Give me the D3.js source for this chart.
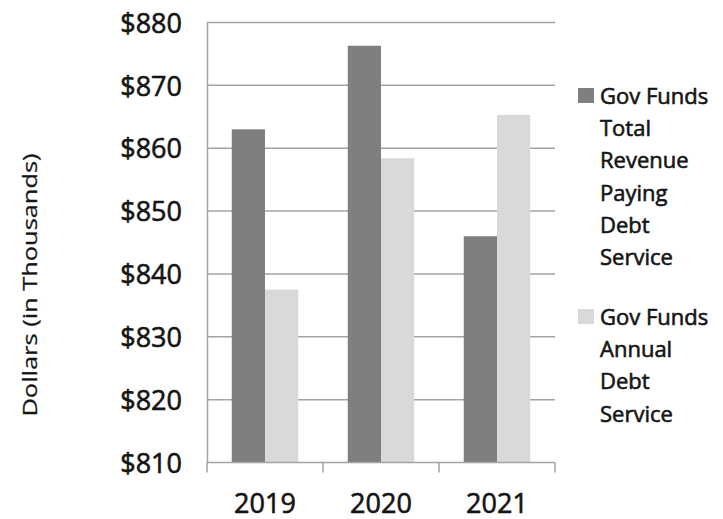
<!DOCTYPE html>
<html>
<head>
<meta charset="utf-8">
<script src="https://cdn.jsdelivr.net/npm/d3@7"></script>
<style>
  html, body { margin: 0; padding: 0; background: #fff; }
  svg { display: block; }
  text { font-family: "Open Sans", "Noto Sans", sans-serif; fill: #151515; stroke: #151515; stroke-width: 0.6px; }
</style>
</head>
<body>
<svg id="chart" width="723" height="519"></svg>
<script>
// Chart data
const years = ["2019", "2020", "2021"];
const seriesNames = ["Gov Funds Total Revenue Paying Debt Service", "Gov Funds Annual Debt Service"];
const legendLines = [
  ["Gov Funds", "Total", "Revenue", "Paying", "Debt", "Service"],
  ["Gov Funds", "Annual", "Debt", "Service"]
];
const revenuePayingDebt = [863.0, 876.3, 846.0];
const annualDebtService = [837.5, 858.4, 865.3];
const yTicks = [810, 820, 830, 840, 850, 860, 870, 880];
const colors = ["#7f7f7f", "#d9d9d9"];

const values = [revenuePayingDebt, annualDebtService];

const svg = d3.select("#chart");
const plot = { left: 207, right: 555, top: 22.5, bottom: 462.5 };

const y = d3.scaleLinear().domain([810, 880]).range([plot.bottom, plot.top]);
const x0 = d3.scaleBand().domain(years).range([plot.left, plot.right]).paddingInner(0).paddingOuter(0);
const x1 = d3.scaleBand().domain(d3.range(seriesNames.length)).range([0, x0.bandwidth()])
  .paddingInner(0).paddingOuter(0.745);

// Horizontal gridlines
svg.append("g")
  .selectAll("line")
  .data(yTicks.slice(1))
  .join("line")
  .attr("x1", plot.left).attr("x2", plot.right)
  .attr("y1", d => y(d)).attr("y2", d => y(d))
  .attr("stroke", "#a3a3a3").attr("stroke-width", 1.5);

// Bars
const groups = svg.append("g")
  .selectAll("g")
  .data(years)
  .join("g")
  .attr("transform", d => `translate(${x0(d)},0)`);

groups.selectAll("rect")
  .data((d, i) => values.map((s, k) => ({ k, v: s[i] })))
  .join("rect")
  .attr("x", d => x1(d.k))
  .attr("width", x1.bandwidth())
  .attr("y", d => y(d.v))
  .attr("height", d => y(810) - y(d.v))
  .attr("fill", d => colors[d.k]);

// Y axis
const yAxis = svg.append("g")
  .attr("transform", `translate(${plot.left},0)`)
  .call(d3.axisLeft(y).tickValues(yTicks).tickSize(0).tickPadding(25)
    .tickFormat(d => "$" + d));
yAxis.select(".domain").attr("stroke", "#a3a3a3").attr("stroke-width", 1.5);
yAxis.selectAll("text")
  .attr("font-size", 27)
  .attr("font-family", "'Open Sans', sans-serif")
  .attr("fill", "#151515")
  .attr("dy", "0.36em");

// X axis with boundary ticks
const xAxis = svg.append("g")
  .attr("transform", `translate(0,${plot.bottom})`);
xAxis.append("line")
  .attr("x1", plot.left).attr("x2", plot.right)
  .attr("y1", 0).attr("y2", 0)
  .attr("stroke", "#a3a3a3").attr("stroke-width", 1.5);
xAxis.selectAll("line.tick")
  .data(years.map(d => x0(d)).concat([plot.right]))
  .join("line")
  .attr("class", "tick")
  .attr("x1", d => d).attr("x2", d => d)
  .attr("y1", 0).attr("y2", 10)
  .attr("stroke", "#a3a3a3").attr("stroke-width", 1.5);
xAxis.selectAll("text")
  .data(years)
  .join("text")
  .attr("x", d => x0(d) + x0.bandwidth() / 2)
  .attr("y", 50)
  .attr("text-anchor", "middle")
  .attr("font-size", 27)
  .text(d => d);

// Y axis title
svg.append("text")
  .attr("transform", "translate(37,285) rotate(-90) scale(1.27,1)")
  .attr("text-anchor", "middle")
  .attr("font-size", 20)
  .style("stroke-width", "0.25px")
  .text("Dollars (in Thousands)");

// Legend
const legendTops = [104, 325];
const lineGap = 32.2;
const legend = svg.append("g");
legendLines.forEach((lines, k) => {
  const g = legend.append("g");
  g.append("rect")
    .attr("x", 578).attr("y", legendTops[k] - 16)
    .attr("width", 16).attr("height", 15)
    .attr("fill", colors[k]);
  g.selectAll("text")
    .data(lines)
    .join("text")
    .attr("x", 600)
    .attr("y", (d, i) => legendTops[k] + i * lineGap)
    .attr("font-size", 22)
    .text(d => d);
});
</script>
</body>
</html>
